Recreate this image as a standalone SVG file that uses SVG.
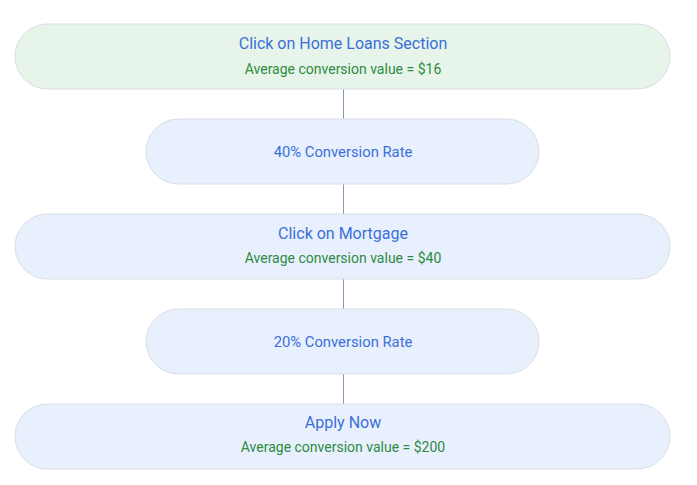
<svg xmlns="http://www.w3.org/2000/svg" width="697" height="485" viewBox="0 0 697 485">
<style>
.n{stroke:#d9dee6;stroke-width:1}
.g{fill:#e6f4ea}
.b{fill:#e8f0fe}
.t{font-family:Roboto,"Liberation Sans",sans-serif;font-size:16px;fill:#3b6fd8;text-anchor:middle}
.s{font-family:Roboto,"Liberation Sans",sans-serif;font-size:14px;fill:#2e8b3e;text-anchor:middle}
.r{font-family:Roboto,"Liberation Sans",sans-serif;font-size:14.8px;fill:#3b6fd8;text-anchor:middle}
.c{stroke:#8a94b4;stroke-width:1;fill:none}
</style>
<rect width="697" height="485" fill="#ffffff"/>
<g id="connectors">
<line class="c" x1="343.5" y1="89" x2="343.5" y2="119"/>
<line class="c" x1="343.5" y1="184" x2="343.5" y2="214"/>
<line class="c" x1="343.5" y1="279" x2="343.5" y2="309"/>
<line class="c" x1="343.5" y1="374" x2="343.5" y2="404"/>
</g>
<g id="home-loans">
<rect class="n g" x="15" y="24" width="655" height="65" rx="32.5"/>
<text class="t" x="343" y="49">Click on Home Loans Section</text>
<text class="s" x="343" y="74">Average conversion value = $16</text>
</g>
<g id="rate-40">
<rect class="n b" x="146" y="119" width="393" height="65" rx="32.5"/>
<text class="r" x="343" y="157">40% Conversion Rate</text>
</g>
<g id="mortgage">
<rect class="n b" x="15" y="214" width="655" height="65" rx="32.5"/>
<text class="t" x="343" y="239">Click on Mortgage</text>
<text class="s" x="343" y="263">Average conversion value = $40</text>
</g>
<g id="rate-20">
<rect class="n b" x="146" y="309" width="393" height="65" rx="32.5"/>
<text class="r" x="343" y="347">20% Conversion Rate</text>
</g>
<g id="apply-now">
<rect class="n b" x="15" y="404" width="655" height="65" rx="32.5"/>
<text class="t" x="343" y="428">Apply Now</text>
<text class="s" x="343" y="452">Average conversion value = $200</text>
</g>
</svg>
